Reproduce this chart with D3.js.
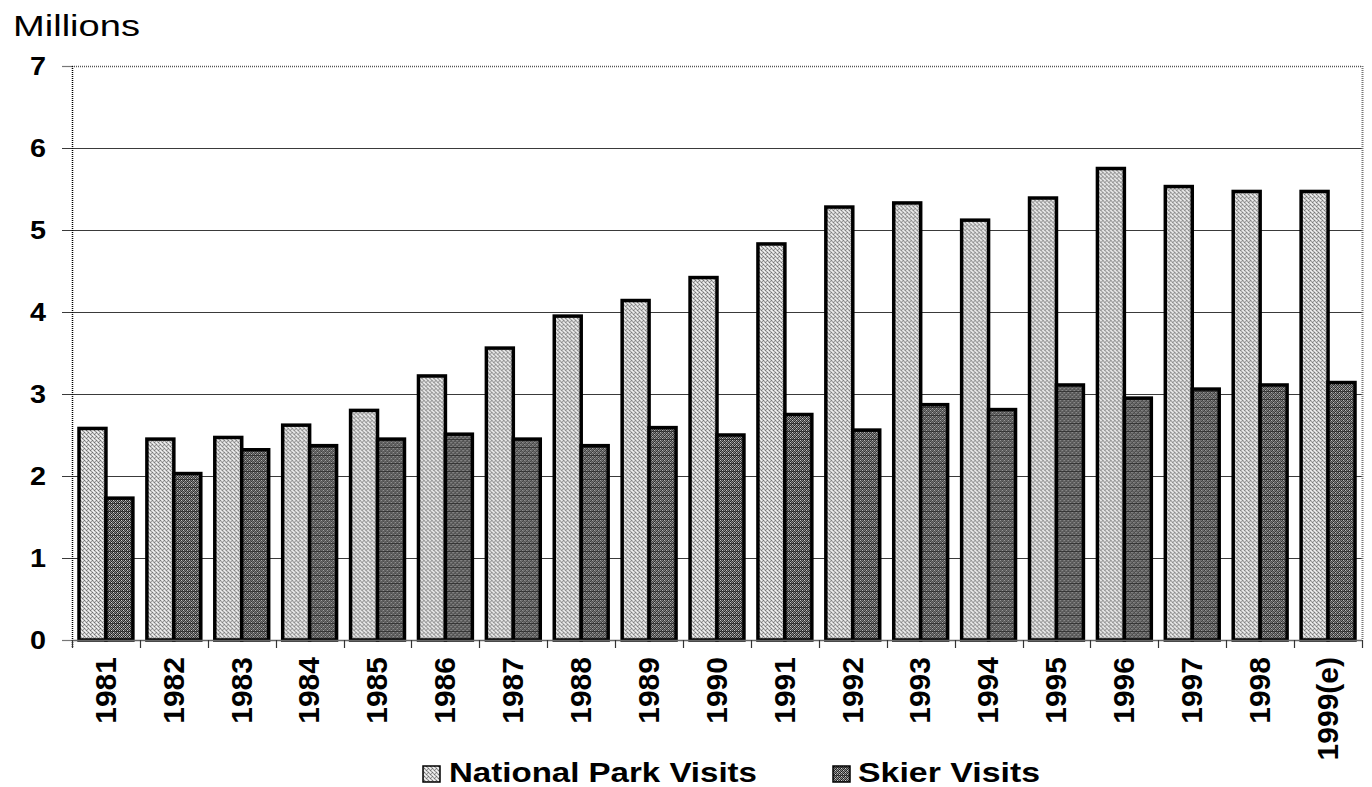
<!DOCTYPE html>
<html>
<head>
<meta charset="utf-8">
<script src="https://cdn.jsdelivr.net/npm/d3@7"></script>
<style>
  html, body { margin: 0; padding: 0; background: #ffffff; }
  svg { display: block; }
  text { font-family: "Liberation Sans", Arial, Helvetica, sans-serif; fill: #000; }
</style>
</head>
<body>
<svg id="chart" width="1372" height="787"></svg>
<script>
// ---- data ----
const years = ["1981","1982","1983","1984","1985","1986","1987","1988","1989","1990",
               "1991","1992","1993","1994","1995","1996","1997","1998","1999(e)"];
const seriesNames = ["National Park Visits", "Skier Visits"];
const nationalParkVisits = [2.58, 2.45, 2.47, 2.62, 2.80, 3.22, 3.56, 3.95, 4.14, 4.42,
                            4.83, 5.28, 5.33, 5.12, 5.39, 5.75, 5.53, 5.47, 5.47];
const skierVisits = [1.73, 2.03, 2.32, 2.37, 2.45, 2.51, 2.45, 2.37, 2.59, 2.50,
                     2.75, 2.56, 2.87, 2.81, 3.11, 2.95, 3.06, 3.11, 3.14];
const yTicks = [0, 1, 2, 3, 4, 5, 6, 7];
const yLabel = "Millions";

// ---- layout ----
const svg = d3.select("#chart");
const plotL = 72, plotR = 1362, plotT = 66, plotB = 640;

const defs = svg.append("defs");
// light dither pattern (National Park)
const p1 = defs.append("pattern").attr("id", "patNP")
  .attr("patternUnits", "userSpaceOnUse").attr("width", 4).attr("height", 4);
p1.append("rect").attr("width", 4).attr("height", 4).attr("fill", "#cfcfcf");
[[0,0],[2,2]].forEach(([px, py]) => p1.append("rect").attr("x", px).attr("y", py)
  .attr("width", 1).attr("height", 1).attr("fill", "#6e6e6e"));
[[1,1],[3,3],[3,1]].forEach(([px, py]) => p1.append("rect").attr("x", px).attr("y", py)
  .attr("width", 1).attr("height", 1).attr("fill", "#9a9a9a"));
[[2,0],[0,2],[1,3]].forEach(([px, py]) => p1.append("rect").attr("x", px).attr("y", py)
  .attr("width", 1).attr("height", 1).attr("fill", "#f4f4f4"));

// dark dither pattern with faint horizontal bands (Skier)
const p2 = defs.append("pattern").attr("id", "patSK")
  .attr("patternUnits", "userSpaceOnUse").attr("width", 4).attr("height", 8);
p2.append("rect").attr("width", 4).attr("height", 8).attr("fill", "#8c8c8c");
[[0,0],[2,0],[1,1],[3,1],[0,2],[2,2],[1,3],[3,3],[0,4],[2,4],[1,5],[3,5],[0,6],[2,6],[1,7],[3,7]]
  .forEach(([px, py]) => p2.append("rect").attr("x", px).attr("y", py).attr("width", 1).attr("height", 1)
    .attr("fill", (px + py) % 4 === 0 ? "#1e1e1e" : "#3a3a3a"));
[[1,0],[3,2],[1,4],[3,6]].forEach(([px, py]) => p2.append("rect").attr("x", px).attr("y", py)
  .attr("width", 1).attr("height", 1).attr("fill", "#cfcfcf"));
p2.append("rect").attr("x", 0).attr("y", 7).attr("width", 4).attr("height", 1).attr("fill", "#1e1e1e").attr("opacity", 0.6);

const x = d3.scaleBand().domain(years).range([plotL, plotR]).padding(0);
const x1 = d3.scaleBand().domain(seriesNames).range([7, x.bandwidth() - 7]).padding(0);
const y = d3.scaleLinear().domain([0, 7]).range([plotB, plotT]);

// gridlines (with left tick stubs)
svg.append("g").selectAll("line").data(yTicks.filter(t => t > 0 && t < 7)).join("line")
  .attr("x1", plotL - 10).attr("x2", plotR)
  .attr("y1", d => Math.round(y(d)) + 0.5).attr("y2", d => Math.round(y(d)) + 0.5)
  .attr("stroke", "#3a3a3a").attr("stroke-width", 1.2);
// tick stubs for 0 and 7
svg.append("g").selectAll("line").data([0, 7]).join("line")
  .attr("x1", plotL - 10).attr("x2", plotL)
  .attr("y1", d => Math.round(y(d)) + 0.5).attr("y2", d => Math.round(y(d)) + 0.5)
  .attr("stroke", "#777").attr("stroke-width", 1.2);

// plot border (dotted) top and right
svg.append("line").attr("x1", plotL).attr("x2", plotR).attr("y1", plotT + 0.5).attr("y2", plotT + 0.5)
  .attr("stroke", "#555").attr("stroke-width", 1.5).attr("stroke-dasharray", "1,1");
svg.append("line").attr("x1", plotR + 0.5).attr("x2", plotR + 0.5).attr("y1", plotT).attr("y2", plotB)
  .attr("stroke", "#777").attr("stroke-width", 2).attr("stroke-dasharray", "1,1");

// bars
const data = years.map((yr, i) => ({ yr, vals: [
  { s: seriesNames[0], v: nationalParkVisits[i], fill: "url(#patNP)" },
  { s: seriesNames[1], v: skierVisits[i], fill: "url(#patSK)" } ] }));

svg.append("g").selectAll("g").data(data).join("g")
  .attr("transform", d => `translate(${x(d.yr)},0)`)
  .selectAll("rect").data(d => d.vals).join("rect")
  .attr("x", d => x1(d.s))
  .attr("width", x1.bandwidth())
  .attr("y", d => y(d.v))
  .attr("height", d => y(0) - y(d.v))
  .attr("fill", d => d.fill)
  .attr("stroke", "#000").attr("stroke-width", 3.5);

// y axis line (dotted black)
svg.append("line").attr("x1", plotL + 0.5).attr("x2", plotL + 0.5).attr("y1", plotT).attr("y2", plotB + 8)
  .attr("stroke", "#000").attr("stroke-width", 1.5).attr("stroke-dasharray", "1,1");

// x axis line and ticks
svg.append("line").attr("x1", plotL).attr("x2", plotR).attr("y1", plotB + 0.5).attr("y2", plotB + 0.5)
  .attr("stroke", "#666").attr("stroke-width", 1.5);
const boundaries = years.map(yr => x(yr)).concat([plotR]);
svg.append("g").selectAll("line").data(boundaries).join("line")
  .attr("x1", d => Math.round(d) + 0.5).attr("x2", d => Math.round(d) + 0.5)
  .attr("y1", plotB).attr("y2", plotB + 8)
  .attr("stroke", "#333").attr("stroke-width", 1.2);

// y tick labels
svg.append("g").selectAll("text").data(yTicks).join("text")
  .attr("x", 46).attr("y", d => y(d) + 9)
  .attr("text-anchor", "end")
  .attr("font-size", 25).attr("font-weight", "bold")
  .attr("textLength", 16).attr("lengthAdjust", "spacingAndGlyphs")
  .text(d => d);

// x tick labels (rotated)
svg.append("g").selectAll("text").data(years).join("text")
  .attr("transform", d => `translate(${x(d) + x.bandwidth() / 2 - 1},657) rotate(-90)`)
  .attr("text-anchor", "end")
  .attr("dy", "0.36em")
  .attr("font-size", 30).attr("font-weight", "bold")
  .text(d => d);

// axis title
svg.append("text").attr("x", 13).attr("y", 36)
  .attr("font-size", 30)
  .attr("textLength", 127).attr("lengthAdjust", "spacingAndGlyphs")
  .text(yLabel);

// legend
const legend = [
  { name: seriesNames[0], fill: "url(#patNP)", sx: 423, tx: 449, tw: 308 },
  { name: seriesNames[1], fill: "url(#patSK)", sx: 833, tx: 858, tw: 182 }
];
const lg = svg.append("g").selectAll("g").data(legend).join("g");
lg.append("rect").attr("x", d => d.sx).attr("y", 766).attr("width", 17).attr("height", 16)
  .attr("fill", d => d.fill).attr("stroke", "#000").attr("stroke-width", 1.5);
lg.append("text").attr("x", d => d.tx).attr("y", 782)
  .attr("font-size", 28).attr("font-weight", "bold")
  .attr("textLength", d => d.tw).attr("lengthAdjust", "spacingAndGlyphs")
  .text(d => d.name);
</script>
</body>
</html>
